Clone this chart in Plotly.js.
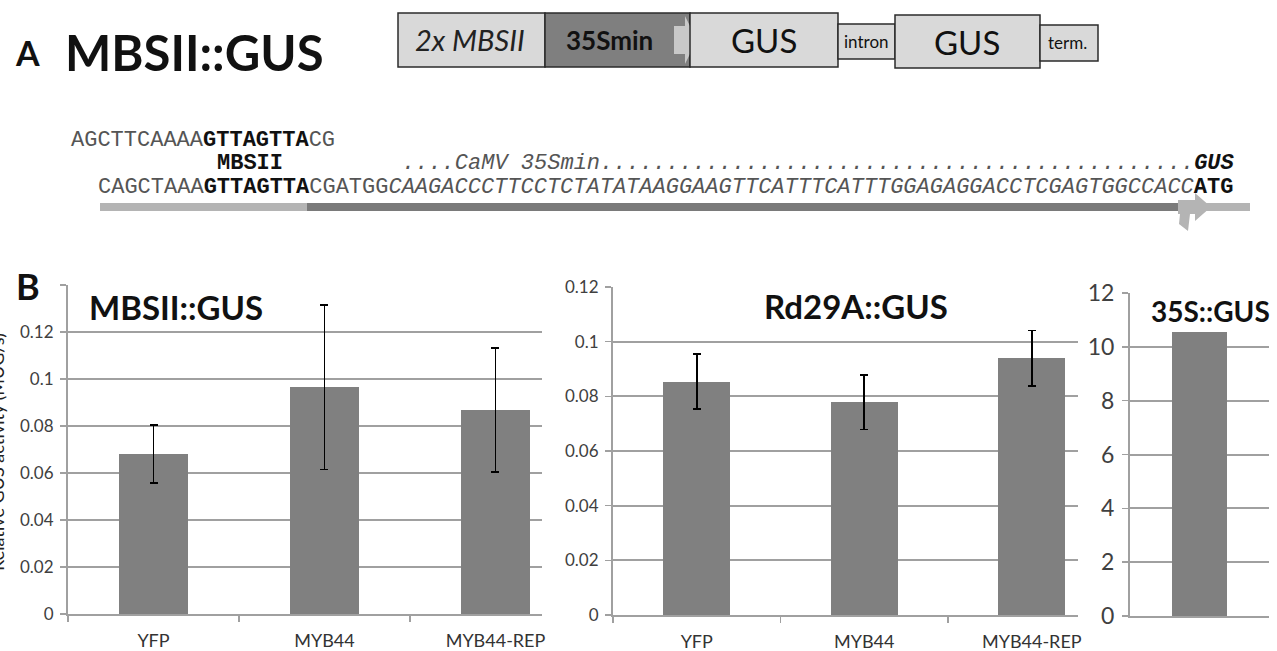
<!DOCTYPE html>
<html><head><meta charset="utf-8">
<script src="https://cdn.plot.ly/plotly-3.0.1.min.js"></script>
<style>html,body{margin:0;padding:0;background:#fff}</style>
</head><body><div id="chart" style="width:1277px;height:651px"></div>
<script>
// ---- data ----
const categories = ['YFP', 'MYB44', 'MYB44-REP'];
const mbsiiValues = [0.068, 0.0965, 0.0868];
const mbsiiErrors = [0.0124, 0.035, 0.0264];
const rd29aValues = [0.0854, 0.0778, 0.0939];
const rd29aErrors = [0.0101, 0.0099, 0.0102];
const s35Category = ['35S::GUS'];
const s35Values = [10.55];
const mbsiiTicks = [0, 0.02, 0.04, 0.06, 0.08, 0.1, 0.12, 0.14];
const mbsiiTickText = ['0', '0.02', '0.04', '0.06', '0.08', '0.1', '0.12', ''];
const rd29aTicks = [0, 0.02, 0.04, 0.06, 0.08, 0.1, 0.12];
const rd29aTickText = ['0', '0.02', '0.04', '0.06', '0.08', '0.1', '0.12'];
const s35Ticks = [0, 2, 4, 6, 8, 10, 12];
const seqLine1 = ['AGCTTCAAAA', 'GTTAGTTA', 'CG'];
const seqLine3 = ['CAGCTAAA', 'GTTAGTTA', 'CGATGG', 'CAAGACCCTTCCTCTATATAAGGAAGTTCATTTCATTTGGAGAGGACCTCGAGTGGCCACC', 'ATG'];

// ---- layout helpers ----
const W = 1277, H = 651;
const X = p => p / W, Y = p => 1 - p / H;
const GRID = '#a0a0a0', BAR = '#808080';
const SANS = 'Lato, Calibri, sans-serif';
const MONO = '"Liberation Mono", "Courier New", monospace';

function bars(x, y, err, xa, ya, w) {
  const t = {type: 'bar', x: x, y: y, xaxis: xa, yaxis: ya, width: w,
    marker: {color: BAR, line: {width: 0}}, hoverinfo: 'skip'};
  if (err) t.error_y = {type: 'data', array: err, visible: true, color: '#000', thickness: 1.8, width: 4};
  return t;
}
const data = [
  bars(categories, mbsiiValues, mbsiiErrors, 'x', 'y', 0.4),
  bars(categories, rd29aValues, rd29aErrors, 'x2', 'y2', 0.4),
  bars(s35Category, s35Values, null, 'x3', 'y3', 0.4)
];

function xAxis(dom, anchor, range, showLabels) {
  return {domain: dom, anchor: anchor, type: 'category', range: range,
    tickson: 'boundaries', ticks: showLabels ? 'outside' : '', ticklen: 6, tickwidth: 1.5, tickcolor: GRID,
    showline: true, linecolor: GRID, linewidth: 2, showgrid: false, zeroline: false,
    showticklabels: showLabels, ticklabelstandoff: 9,
    tickfont: {family: SANS, size: 18, color: '#333'}, fixedrange: true};
}
function yAxis(dom, anchor, range, tv, tt, fs) {
  return {domain: dom, anchor: anchor, range: range, tickvals: tv, ticktext: tt,
    ticks: 'outside', ticklen: 6, tickwidth: 1.5, tickcolor: GRID,
    showline: true, linecolor: GRID, linewidth: 2, showgrid: true, gridcolor: GRID, gridwidth: 2,
    zeroline: false, ticklabelstandoff: 3,
    tickfont: {family: SANS, size: fs, color: '#404040'}, fixedrange: true};
}

const shapes = [];
function rect(x0, y0, x1, y1, fill, lw) {
  shapes.push({type: 'rect', xref: 'paper', yref: 'paper', x0: X(x0), x1: X(x1), y0: Y(y1), y1: Y(y0),
    fillcolor: fill, line: {color: '#2b2b2b', width: lw}, layer: 'above'});
}
function poly(pts, fill) {
  const d = pts.map((p, i) => (i ? 'L' : 'M') + X(p[0]).toFixed(5) + ',' + Y(p[1]).toFixed(5)).join(' ') + ' Z';
  shapes.push({type: 'path', xref: 'paper', yref: 'paper', path: d, fillcolor: fill, line: {width: 0}, layer: 'above'});
}
// construct diagram
rect(398, 13, 545, 67, '#d9d9d9', 1.5);
rect(545, 13, 690, 67, '#7f7f7f', 1.5);
poly([[674, 26], [685, 26], [685, 16], [697, 40], [685, 64], [685, 54], [674, 54]], '#c8c8c8');
rect(690, 13, 838, 67, '#d9d9d9', 1.5);
rect(838, 24, 895, 59, '#d9d9d9', 1.5);
rect(895, 15, 1040, 68, '#d9d9d9', 1.5);
rect(1040, 25, 1098, 61, '#d9d9d9', 1.5);
// sequence bars
rect(100, 203, 307, 211, '#b4b4b4', 0);
rect(307, 203, 1186, 211, '#7a7a7a', 0);
rect(1195, 203, 1250, 211, '#b4b4b4', 0);
poly([[1178, 200], [1195, 200], [1195, 193], [1211, 207], [1195, 221], [1195, 214], [1190, 214], [1188, 231], [1179, 224], [1180, 214], [1178, 214]], '#b4b4b4');

const ann = [];
function text(x, y, t, size, opts) {
  ann.push(Object.assign({xref: 'paper', yref: 'paper', x: X(x), y: Y(y), text: t, showarrow: false,
    xanchor: 'center', yanchor: 'middle', font: {family: SANS, size: size, color: '#111'}}, opts || {}));
}
text(27, 52, '<b>A</b>', 34);
text(63, 52, '<b>MBSII::GUS</b>', 49, {xanchor: 'left'});
text(470, 40, '<i>2x MBSII</i>', 29, {font: {family: SANS, size: 29, color: '#222'}});
text(609, 40, '<b>35Smin</b>', 26);
text(764, 40, 'GUS', 33);
text(866, 42, 'intron', 17);
text(967, 42, 'GUS', 33);
text(1067, 43, 'term.', 17);
// sequences
const CW = 13.2, S0 = 97;
const g = s => '<span style="color:#555">' + s + '</span>';
const mono = (x, y, t) => text(x, y, t, 22, {xanchor: 'left', font: {family: MONO, size: 22, color: '#111'}});
mono(S0 - 2 * CW - 2, 140, g(seqLine1[0]) + '<b>' + seqLine1[1] + '</b>' + g(seqLine1[2]));
mono(S0 + 9 * CW - 1, 163, '<b>MBSII</b>');
mono(S0 + 23 * CW - 1, 163, g('<i>....CaMV 35Smin' + '.'.repeat(45) + '</i>') + '<b><i>GUS</i></b>');
mono(S0 - 1, 187, g(seqLine3[0]) + '<b>' + seqLine3[1] + '</b>' + g(seqLine3[2]) + g('<i>' + seqLine3[3] + '</i>') + '<b>' + seqLine3[4] + '</b>');
// panel B
text(28, 286, '<b>B</b>', 36);
text(176, 307, '<b>MBSII::GUS</b>', 33);
text(856, 306, '<b>Rd29A::GUS</b>', 33);
text(1210, 311, '<b>35S::GUS</b>', 28);
text(-3, 452, 'Relative GUS activity (MUG/s)', 18, {textangle: -90, font: {family: SANS, size: 18, color: '#222'}});

const layout = {
  width: W, height: H, margin: {l: 0, r: 0, t: 0, b: 0, autoexpand: false},
  paper_bgcolor: '#fff', plot_bgcolor: 'rgba(0,0,0,0)', showlegend: false, bargap: 0,
  xaxis: xAxis([X(68), X(542)], 'y', [-0.5, 2.272], true),
  yaxis: yAxis([Y(614), Y(285)], 'x', [0, 0.14], mbsiiTicks, mbsiiTickText, 17),
  xaxis2: xAxis([X(613), X(1078)], 'y2', [-0.5, 2.276], true),
  yaxis2: yAxis([Y(615), Y(287)], 'x2', [0, 0.12], rd29aTicks, rd29aTickText, 17),
  xaxis3: xAxis([X(1130), X(1269)], 'y3', [-0.5, 0.5], false),
  yaxis3: yAxis([Y(616), Y(293)], 'x3', [0, 12], s35Ticks, s35Ticks.map(String), 23),
  shapes: shapes, annotations: ann
};
Plotly.newPlot('chart', data, layout, {displayModeBar: false, staticPlot: true});
</script></body></html>
